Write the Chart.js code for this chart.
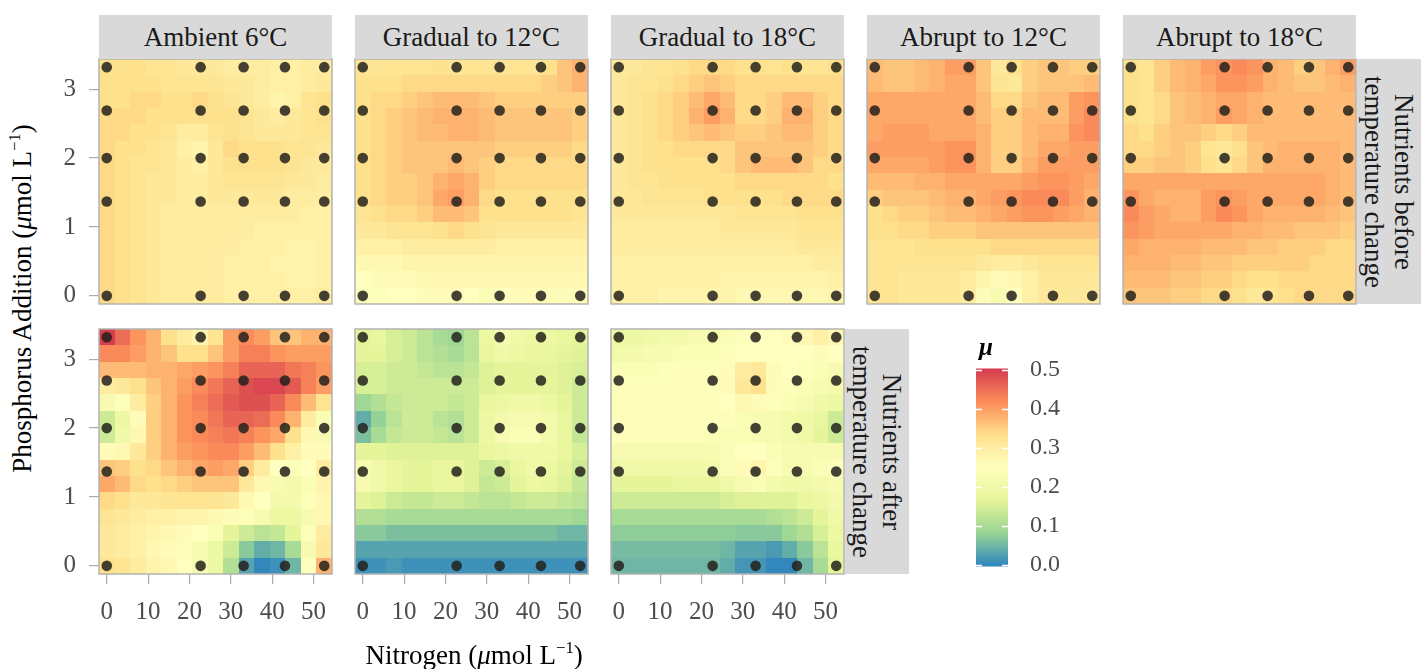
<!DOCTYPE html>
<html>
<head>
<meta charset="utf-8">
<script src="https://cdn.jsdelivr.net/npm/chart.js@4.4.0/dist/chart.umd.min.js"></script>
<style>
  body { margin: 0; background: #fff; font-family: "Liberation Serif", "Times New Roman", serif; }
  #wrap { position: relative; width: 1426px; height: 669px; overflow: hidden; }
  canvas { position: absolute; }
  .strip { position: absolute; background: #d9d9d9; color: #1a1a1a; font-size: 27px;
           display: flex; align-items: center; justify-content: center; white-space: nowrap; }
  .vstrip div { transform: rotate(90deg); text-align: center; line-height: 30px; }
  .title { position: absolute; font-size: 27px; color: #000; white-space: nowrap; }
  .sup { font-size: 0.62em; position: relative; top: -0.65em; }
</style>
</head>
<body>
<div id="wrap"></div>
<script>
// sampled treatment levels (dots)
const N_LEVELS = [0, 22.7, 33.1, 43.1, 52.6];
const P_LEVELS = [0, 1.37, 2.0, 2.69, 3.32];
const X_TICKS = [0, 10, 20, 30, 40, 50];
const Y_TICKS = [0, 1, 2, 3];
const LEGEND_TICKS = [0, 0.1, 0.2, 0.3, 0.4, 0.5];
const LEGEND_RANGE = [-0.004, 0.503];
const MU_MIN = 0, MU_MAX = 0.5;
// reversed Spectral
const PALETTE = ['#3288BD', '#99D594', '#E6F598', '#FFFFBF', '#FEE08B', '#FC8D59', '#D53E4F'];

// interpolated growth rate surfaces, rows from P = 3.32 (top) down to P = 0, columns N = 0 .. 52.6
const MU_AMBIENT_BEFORE = [
  [.33,.33,.33,.32,.32,.31,.31,.31,.30,.30,.30,.29,.29,.30,.30],
  [.33,.33,.33,.33,.32,.32,.32,.32,.31,.31,.30,.29,.29,.30,.31],
  [.33,.33,.34,.34,.33,.33,.34,.33,.32,.31,.30,.28,.29,.32,.33],
  [.34,.34,.34,.33,.33,.33,.33,.33,.33,.32,.31,.30,.31,.32,.33],
  [.34,.34,.33,.33,.32,.30,.30,.32,.33,.32,.31,.31,.31,.32,.32],
  [.34,.33,.33,.32,.31,.29,.28,.31,.34,.33,.33,.33,.32,.32,.31],
  [.34,.33,.32,.32,.31,.30,.29,.31,.33,.33,.33,.33,.32,.31,.31],
  [.34,.33,.32,.31,.31,.30,.30,.31,.32,.32,.32,.32,.31,.31,.30],
  [.34,.33,.32,.31,.31,.30,.30,.31,.31,.31,.31,.31,.30,.30,.30],
  [.34,.33,.32,.31,.30,.30,.30,.30,.30,.30,.30,.30,.30,.29,.29],
  [.34,.33,.32,.31,.30,.30,.30,.30,.30,.30,.29,.29,.29,.29,.29],
  [.34,.33,.32,.31,.30,.30,.30,.30,.30,.29,.29,.29,.28,.28,.29],
  [.34,.33,.32,.31,.30,.30,.30,.30,.29,.29,.29,.28,.28,.28,.29],
  [.34,.33,.32,.31,.30,.30,.30,.30,.29,.29,.29,.29,.28,.28,.29],
  [.34,.33,.32,.31,.30,.30,.30,.30,.29,.29,.29,.29,.29,.29,.30]
];
const MU_GRAD12_BEFORE = [
  [.32,.32,.32,.32,.32,.33,.32,.32,.32,.32,.32,.32,.33,.36,.38],
  [.33,.33,.33,.34,.34,.34,.34,.34,.34,.34,.34,.34,.35,.36,.38],
  [.33,.34,.34,.35,.36,.37,.37,.37,.36,.35,.35,.35,.35,.35,.35],
  [.33,.34,.35,.36,.37,.38,.38,.38,.37,.36,.36,.36,.36,.36,.35],
  [.33,.34,.35,.36,.37,.37,.38,.38,.37,.36,.36,.36,.36,.36,.35],
  [.33,.34,.35,.36,.36,.36,.36,.36,.36,.35,.35,.35,.35,.35,.34],
  [.33,.34,.35,.36,.36,.36,.37,.36,.35,.34,.34,.34,.34,.34,.34],
  [.33,.34,.35,.35,.36,.38,.39,.38,.35,.34,.34,.34,.34,.34,.34],
  [.33,.34,.35,.35,.36,.39,.40,.38,.34,.33,.33,.33,.33,.33,.33],
  [.32,.33,.34,.34,.35,.37,.37,.36,.33,.33,.33,.33,.33,.33,.32],
  [.31,.31,.32,.32,.32,.33,.34,.33,.32,.31,.31,.31,.31,.31,.31],
  [.29,.29,.29,.30,.30,.30,.30,.30,.30,.29,.29,.29,.29,.29,.29],
  [.27,.27,.27,.28,.28,.28,.28,.28,.28,.28,.28,.28,.28,.28,.28],
  [.25,.26,.26,.26,.27,.27,.27,.27,.27,.27,.27,.27,.27,.27,.27],
  [.24,.24,.25,.25,.26,.26,.26,.25,.23,.25,.26,.26,.26,.26,.26]
];
const MU_GRAD18_BEFORE = [
  [.31,.31,.32,.32,.33,.34,.34,.34,.33,.33,.32,.33,.32,.32,.33],
  [.31,.32,.32,.33,.34,.35,.36,.35,.34,.34,.34,.34,.34,.34,.34],
  [.31,.32,.33,.34,.35,.37,.39,.37,.34,.34,.35,.37,.37,.35,.34],
  [.31,.32,.33,.34,.35,.38,.40,.38,.34,.34,.35,.38,.38,.35,.34],
  [.31,.32,.33,.34,.35,.36,.37,.36,.35,.35,.36,.37,.37,.35,.34],
  [.31,.32,.33,.33,.34,.34,.34,.34,.36,.36,.36,.36,.36,.35,.34],
  [.31,.32,.33,.33,.33,.33,.33,.34,.36,.37,.37,.37,.36,.34,.34],
  [.31,.32,.32,.33,.33,.33,.33,.33,.34,.34,.34,.34,.34,.34,.33],
  [.31,.31,.32,.32,.32,.32,.33,.33,.33,.33,.33,.34,.34,.34,.34],
  [.31,.31,.31,.31,.31,.31,.31,.31,.32,.32,.32,.32,.33,.33,.33],
  [.30,.30,.30,.30,.30,.30,.30,.31,.31,.31,.31,.31,.32,.32,.32],
  [.30,.30,.30,.30,.30,.30,.30,.30,.30,.30,.30,.30,.31,.31,.31],
  [.29,.29,.29,.29,.29,.29,.29,.29,.29,.29,.29,.29,.29,.30,.30],
  [.29,.29,.29,.29,.29,.29,.29,.28,.28,.28,.28,.28,.28,.28,.29],
  [.29,.29,.29,.28,.28,.28,.28,.28,.27,.27,.27,.27,.27,.27,.28]
];
const MU_ABRUPT12_BEFORE = [
  [.37,.36,.36,.37,.38,.40,.40,.36,.31,.33,.35,.36,.36,.35,.35],
  [.37,.36,.36,.37,.38,.39,.39,.36,.32,.31,.35,.36,.36,.36,.37],
  [.39,.39,.39,.39,.39,.39,.39,.37,.34,.34,.36,.37,.37,.40,.41],
  [.39,.39,.39,.39,.39,.39,.39,.37,.35,.35,.37,.37,.37,.40,.42],
  [.39,.40,.40,.40,.39,.39,.39,.38,.35,.35,.37,.38,.38,.41,.42],
  [.40,.40,.40,.40,.40,.41,.41,.38,.35,.35,.37,.39,.39,.40,.40],
  [.39,.39,.39,.39,.40,.41,.41,.38,.35,.35,.38,.40,.40,.40,.40],
  [.37,.37,.37,.38,.38,.39,.39,.39,.39,.39,.40,.41,.41,.40,.39],
  [.35,.36,.36,.36,.37,.38,.38,.39,.40,.41,.42,.42,.42,.40,.38],
  [.33,.34,.35,.35,.36,.37,.37,.38,.39,.40,.41,.41,.40,.39,.38],
  [.33,.33,.34,.34,.35,.35,.35,.36,.36,.36,.36,.36,.36,.36,.36],
  [.32,.32,.32,.33,.33,.33,.33,.33,.34,.34,.34,.34,.34,.34,.34],
  [.32,.32,.32,.32,.32,.32,.32,.31,.30,.30,.31,.32,.32,.32,.32],
  [.32,.32,.31,.31,.31,.31,.30,.28,.26,.27,.29,.31,.31,.31,.31],
  [.32,.32,.31,.31,.31,.31,.30,.26,.22,.25,.29,.31,.31,.31,.31]
];
const MU_ABRUPT18_BEFORE = [
  [.33,.32,.35,.37,.38,.40,.41,.42,.41,.38,.37,.35,.36,.38,.40],
  [.33,.32,.35,.37,.38,.39,.41,.41,.40,.38,.37,.36,.36,.37,.38],
  [.33,.32,.34,.36,.37,.38,.39,.39,.38,.37,.37,.37,.37,.37,.37],
  [.33,.32,.34,.36,.37,.38,.40,.39,.38,.37,.37,.37,.37,.37,.37],
  [.34,.33,.35,.36,.36,.35,.34,.35,.37,.37,.37,.37,.37,.37,.37],
  [.34,.34,.35,.36,.35,.32,.31,.33,.36,.37,.38,.38,.38,.38,.37],
  [.35,.35,.36,.36,.35,.33,.32,.34,.36,.38,.38,.38,.38,.38,.37],
  [.39,.39,.39,.39,.39,.39,.39,.39,.39,.39,.39,.39,.39,.38,.37],
  [.41,.39,.38,.38,.38,.40,.41,.40,.39,.39,.39,.39,.39,.38,.37],
  [.42,.40,.39,.38,.38,.40,.42,.41,.39,.38,.38,.38,.38,.37,.36],
  [.41,.40,.39,.39,.39,.39,.39,.38,.38,.37,.37,.36,.36,.36,.35],
  [.39,.38,.38,.38,.38,.37,.37,.37,.36,.36,.35,.35,.35,.34,.34],
  [.38,.38,.38,.37,.37,.36,.36,.35,.35,.35,.35,.35,.34,.34,.34],
  [.37,.37,.37,.36,.36,.35,.35,.34,.33,.33,.34,.34,.34,.34,.34],
  [.36,.36,.36,.35,.35,.34,.34,.33,.31,.32,.33,.34,.34,.34,.34]
];
const MU_AMBIENT_AFTER = [
  [.50,.45,.41,.38,.33,.30,.28,.32,.40,.42,.40,.36,.36,.38,.38],
  [.42,.42,.40,.38,.36,.33,.33,.36,.40,.43,.43,.41,.40,.40,.40],
  [.37,.37,.37,.38,.38,.39,.40,.41,.43,.46,.46,.46,.44,.43,.41],
  [.30,.31,.33,.36,.38,.40,.42,.44,.46,.48,.49,.49,.47,.43,.40],
  [.22,.24,.30,.35,.38,.41,.43,.45,.47,.48,.48,.46,.42,.37,.32],
  [.14,.19,.26,.35,.38,.41,.42,.44,.46,.46,.45,.42,.38,.30,.23],
  [.14,.20,.27,.35,.38,.41,.42,.43,.44,.43,.41,.39,.33,.27,.22],
  [.26,.27,.31,.35,.38,.40,.41,.42,.42,.40,.37,.33,.29,.26,.26],
  [.36,.35,.33,.34,.36,.38,.39,.40,.39,.35,.30,.25,.24,.25,.30],
  [.39,.37,.34,.33,.34,.35,.36,.36,.36,.31,.27,.22,.21,.23,.28],
  [.34,.33,.31,.31,.32,.32,.32,.32,.31,.27,.25,.21,.21,.24,.27],
  [.32,.31,.30,.29,.29,.28,.28,.27,.26,.24,.22,.19,.19,.22,.27],
  [.31,.30,.29,.28,.27,.26,.25,.23,.17,.14,.12,.13,.17,.24,.30],
  [.31,.30,.29,.27,.26,.24,.22,.19,.14,.07,.04,.05,.10,.22,.31],
  [.33,.32,.30,.28,.27,.25,.22,.19,.11,.03,.00,.01,.05,.25,.38]
];
const MU_GRAD12_AFTER = [
  [.17,.18,.15,.14,.12,.10,.09,.12,.19,.22,.20,.19,.19,.18,.17],
  [.17,.17,.15,.14,.12,.11,.10,.12,.18,.20,.19,.18,.18,.17,.16],
  [.15,.15,.14,.14,.13,.12,.12,.13,.16,.17,.17,.17,.17,.16,.15],
  [.15,.15,.14,.14,.14,.14,.14,.14,.16,.17,.17,.17,.17,.16,.14],
  [.09,.11,.13,.14,.14,.14,.13,.14,.18,.19,.20,.20,.19,.17,.14],
  [.04,.08,.12,.14,.14,.12,.11,.14,.19,.21,.22,.22,.21,.18,.14],
  [.06,.10,.13,.14,.14,.13,.12,.14,.19,.22,.23,.23,.21,.18,.13],
  [.17,.17,.16,.16,.16,.16,.16,.16,.18,.19,.20,.20,.20,.18,.15],
  [.22,.20,.18,.17,.17,.18,.18,.16,.14,.15,.18,.20,.19,.17,.14],
  [.22,.20,.18,.17,.17,.18,.18,.16,.13,.14,.17,.19,.18,.16,.13],
  [.17,.16,.14,.13,.13,.14,.14,.13,.12,.12,.13,.14,.14,.13,.12],
  [.11,.11,.10,.10,.10,.10,.10,.10,.10,.10,.10,.10,.10,.10,.09],
  [.07,.07,.06,.06,.06,.06,.06,.06,.06,.06,.06,.06,.06,.05,.05],
  [.03,.03,.03,.03,.03,.03,.03,.03,.03,.03,.03,.03,.03,.03,.03],
  [.01,.01,.02,.01,.01,.01,.01,.01,.01,.01,.01,.01,.01,.01,.01]
];
const MU_GRAD18_AFTER = [
  [.19,.19,.20,.21,.21,.22,.22,.23,.24,.25,.25,.26,.27,.29,.27],
  [.21,.21,.22,.22,.23,.23,.23,.24,.25,.25,.25,.25,.25,.26,.25],
  [.23,.23,.23,.24,.24,.24,.24,.26,.30,.31,.26,.25,.24,.23,.22],
  [.24,.24,.24,.24,.24,.24,.24,.26,.31,.33,.26,.24,.23,.22,.21],
  [.24,.24,.24,.24,.24,.24,.24,.25,.27,.26,.24,.23,.22,.20,.19],
  [.24,.24,.24,.24,.24,.24,.24,.24,.23,.22,.22,.21,.20,.18,.14],
  [.24,.24,.24,.24,.24,.24,.23,.23,.23,.22,.22,.21,.20,.17,.14],
  [.22,.22,.22,.22,.22,.22,.22,.23,.25,.25,.23,.22,.22,.22,.22],
  [.20,.20,.20,.20,.20,.20,.21,.23,.26,.28,.24,.22,.22,.23,.24],
  [.17,.17,.17,.17,.18,.18,.18,.20,.22,.23,.21,.20,.20,.21,.22],
  [.14,.14,.14,.14,.14,.14,.14,.15,.16,.16,.16,.16,.18,.19,.21],
  [.10,.10,.10,.10,.10,.10,.10,.10,.10,.10,.11,.12,.14,.17,.20],
  [.075,.075,.075,.075,.075,.075,.075,.075,.07,.07,.07,.09,.11,.15,.19],
  [.055,.055,.055,.055,.055,.055,.055,.05,.03,.03,.02,.04,.07,.12,.18],
  [.05,.05,.05,.05,.05,.05,.05,.04,.015,.015,.00,.00,.05,.10,.17]
];

const PANEL_W = 233, PANEL_H = 245, AXIS_W = 60, AXIS_H = 50, PAD = 40;
const PANELS = [
  { label: 'Ambient 6°C',     grid: MU_AMBIENT_BEFORE,  left: 99,   top: 59,  xAxis: false, yAxis: true },
  { label: 'Gradual to 12°C', grid: MU_GRAD12_BEFORE,   left: 355,  top: 59,  xAxis: false, yAxis: false },
  { label: 'Gradual to 18°C', grid: MU_GRAD18_BEFORE,   left: 611,  top: 59,  xAxis: false, yAxis: false },
  { label: 'Abrupt to 12°C',  grid: MU_ABRUPT12_BEFORE, left: 867,  top: 59,  xAxis: false, yAxis: false },
  { label: 'Abrupt to 18°C',  grid: MU_ABRUPT18_BEFORE, left: 1123, top: 59,  xAxis: false, yAxis: false },
  { label: null,              grid: MU_AMBIENT_AFTER,   left: 99,   top: 329, xAxis: true,  yAxis: true },
  { label: null,              grid: MU_GRAD12_AFTER,    left: 355,  top: 329, xAxis: true,  yAxis: false },
  { label: null,              grid: MU_GRAD18_AFTER,    left: 611,  top: 329, xAxis: true,  yAxis: false }
];

const wrap = document.getElementById('wrap');
const N_MAX = N_LEVELS[N_LEVELS.length - 1], P_MAX = P_LEVELS[P_LEVELS.length - 1];
const GRID_N = MU_AMBIENT_BEFORE[0].length, GRID_P = MU_AMBIENT_BEFORE.length;
const DX = N_MAX / (GRID_N - 1), DY = P_MAX / (GRID_P - 1);
const X_MIN = -DX / 2, X_MAX = N_MAX + DX / 2, Y_MIN = -DY / 2, Y_MAX = P_MAX + DY / 2;

function hexRgb(h) { return [1, 3, 5].map(i => parseInt(h.substr(i, 2), 16)); }
function muColor(v) {
  let t = (v - MU_MIN) / (MU_MAX - MU_MIN) * (PALETTE.length - 1);
  t = Math.max(0, Math.min(PALETTE.length - 1, t));
  const i = Math.min(Math.floor(t), PALETTE.length - 2), f = t - i;
  const a = hexRgb(PALETTE[i]), b = hexRgb(PALETTE[i + 1]);
  return 'rgb(' + a.map((c, k) => Math.round(c + (b[k] - c) * f)).join(',') + ')';
}

const DOTS = [];
N_LEVELS.forEach(n => P_LEVELS.forEach(p => DOTS.push({ x: n, y: p })));

const heatPlugin = {
  id: 'heat',
  beforeDatasetsDraw(chart) {
    const g = chart.canvas.heatGrid, ctx = chart.ctx, xs = chart.scales.x, ys = chart.scales.y;
    ctx.save();
    for (let r = 0; r < g.length; r++) {
      const pv = (g.length - 1 - r) * DY;
      const y0 = Math.round(ys.getPixelForValue(pv + DY / 2)), y1 = Math.round(ys.getPixelForValue(pv - DY / 2));
      for (let c = 0; c < g[r].length; c++) {
        const nv = c * DX;
        const x0 = Math.round(xs.getPixelForValue(nv - DX / 2)), x1 = Math.round(xs.getPixelForValue(nv + DX / 2));
        ctx.fillStyle = muColor(g[r][c]);
        ctx.fillRect(x0, y0, x1 - x0, y1 - y0);
      }
    }
    ctx.restore();
  },
  afterDraw(chart) {
    const a = chart.chartArea, ctx = chart.ctx;
    ctx.save();
    ctx.strokeStyle = '#b3b3b3';
    ctx.lineWidth = 1.5;
    ctx.strokeRect(a.left, a.top, a.right - a.left, a.bottom - a.top);
    ctx.restore();
  }
};

const tickFont = { family: '"Liberation Serif", serif', size: 25 };

function axisOpts(show, ticks, min, max, fit) {
  return {
    type: 'linear', min: min, max: max,
    afterBuildTicks: s => { s.ticks = ticks.map(v => ({ value: v })); },
    afterFit: fit,
    ticks: { display: show, font: tickFont, color: '#4d4d4d', padding: 13, autoSkip: false, maxRotation: 0 },
    grid: { display: show, drawOnChartArea: false, drawTicks: true, tickLength: 10, color: '#aaaaaa', lineWidth: 1.2 },
    border: { display: false }
  };
}

PANELS.forEach(p => {
  const cv = document.createElement('canvas');
  cv.width = AXIS_W + PANEL_W + PAD;
  cv.height = PAD + PANEL_H + AXIS_H;
  cv.style.left = (p.left - AXIS_W) + 'px';
  cv.style.top = (p.top - PAD) + 'px';
  cv.heatGrid = p.grid;
  wrap.appendChild(cv);
  new Chart(cv.getContext('2d'), {
    type: 'scatter',
    data: { datasets: [{ data: DOTS, pointRadius: 5.3, pointHoverRadius: 5.3,
      backgroundColor: 'rgba(35,33,28,0.85)', borderWidth: 0 }] },
    options: {
      responsive: false, animation: false, devicePixelRatio: 1, events: [],
      layout: { padding: { top: PAD, right: PAD, left: 0, bottom: 0 } },
      plugins: { legend: { display: false }, tooltip: { enabled: false } },
      scales: {
        x: axisOpts(p.xAxis, X_TICKS, X_MIN, X_MAX, s => { s.height = AXIS_H; }),
        y: axisOpts(p.yAxis, Y_TICKS, Y_MIN, Y_MAX, s => { s.width = AXIS_W; })
      }
    },
    plugins: [heatPlugin]
  });
  if (p.label) {
    const st = document.createElement('div');
    st.className = 'strip';
    st.style.left = p.left + 'px'; st.style.top = (p.top - 44) + 'px';
    st.style.width = PANEL_W + 'px'; st.style.height = '44px';
    st.textContent = p.label;
    wrap.appendChild(st);
  }
});

// row strips on the right
[{ left: 1357, top: 59, text: 'Nutrients before<br>temperature change' },
 { left: 845, top: 329, text: 'Nutrients after<br>temperature change' }].forEach(s => {
  const d = document.createElement('div');
  d.className = 'strip vstrip';
  d.style.left = s.left + 'px'; d.style.top = s.top + 'px';
  d.style.width = '64px'; d.style.height = PANEL_H + 'px';
  d.innerHTML = '<div>' + s.text + '</div>';
  wrap.appendChild(d);
});

// axis titles
const xt = document.createElement('div');
xt.className = 'title';
xt.innerHTML = 'Nitrogen (<i>μ</i>mol L<span class="sup">−1</span>)';
wrap.appendChild(xt);
xt.style.left = (474 - xt.offsetWidth / 2) + 'px';
xt.style.top = (655 - xt.offsetHeight / 2) + 'px';

const yt = document.createElement('div');
yt.className = 'title';
yt.innerHTML = 'Phosphorus Addition (<i>μ</i>mol L<span class="sup">−1</span>)';
wrap.appendChild(yt);
yt.style.left = (22 - yt.offsetWidth / 2) + 'px';
yt.style.top = (298 - yt.offsetHeight / 2) + 'px';
yt.style.transform = 'rotate(-90deg)';

// colour bar legend
const lg = document.createElement('canvas');
lg.width = 100; lg.height = 255;
lg.style.left = '976px'; lg.style.top = '340px';
wrap.appendChild(lg);
new Chart(lg.getContext('2d'), {
  type: 'bar',
  data: { labels: ['mu'], datasets: [{
    data: [LEGEND_RANGE], barPercentage: 1, categoryPercentage: 1, borderWidth: 0,
    backgroundColor: c => {
      const ch = c.chart;
      if (!ch.chartArea) return PALETTE[0];
      const ys = ch.scales.y;
      const gr = ch.ctx.createLinearGradient(0, ys.getPixelForValue(MU_MIN), 0, ys.getPixelForValue(MU_MAX));
      PALETTE.forEach((col, i) => gr.addColorStop(i / (PALETTE.length - 1), col));
      return gr;
    }
  }] },
  options: {
    responsive: false, animation: false, devicePixelRatio: 1, events: [],
    layout: { padding: { top: 24, bottom: 20, left: 0, right: 0 } },
    plugins: { legend: { display: false }, tooltip: { enabled: false } },
    scales: {
      x: { display: false },
      y: {
        position: 'right', min: LEGEND_RANGE[0], max: LEGEND_RANGE[1],
        afterBuildTicks: s => { s.ticks = LEGEND_TICKS.map(v => ({ value: v })); },
        afterFit: s => { s.width = 68; },
        ticks: { font: { family: '"Liberation Serif", serif', size: 24 }, color: '#4d4d4d', padding: 14,
                 callback: v => v.toFixed(1) },
        grid: { display: false }, border: { display: false }
      }
    }
  },
  plugins: [{
    id: 'barTicks',
    afterDatasetsDraw(chart) {
      const a = chart.chartArea, ctx = chart.ctx, ys = chart.scales.y;
      ctx.save();
      ctx.strokeStyle = '#ffffff'; ctx.lineWidth = 1.3;
      LEGEND_TICKS.forEach(v => {
        const y = Math.round(ys.getPixelForValue(v)) + 0.5;
        ctx.beginPath();
        ctx.moveTo(a.left, y); ctx.lineTo(a.left + 6, y);
        ctx.moveTo(a.right - 6, y); ctx.lineTo(a.right, y);
        ctx.stroke();
      });
      ctx.restore();
    }
  }]
});

const mu = document.createElement('div');
mu.className = 'title';
mu.style.fontWeight = 'bold'; mu.style.fontStyle = 'italic'; mu.style.fontSize = '25px';
mu.textContent = 'μ';
wrap.appendChild(mu);
mu.style.left = '979px';
mu.style.top = (347 - mu.offsetHeight / 2) + 'px';
</script>
</body>
</html>
